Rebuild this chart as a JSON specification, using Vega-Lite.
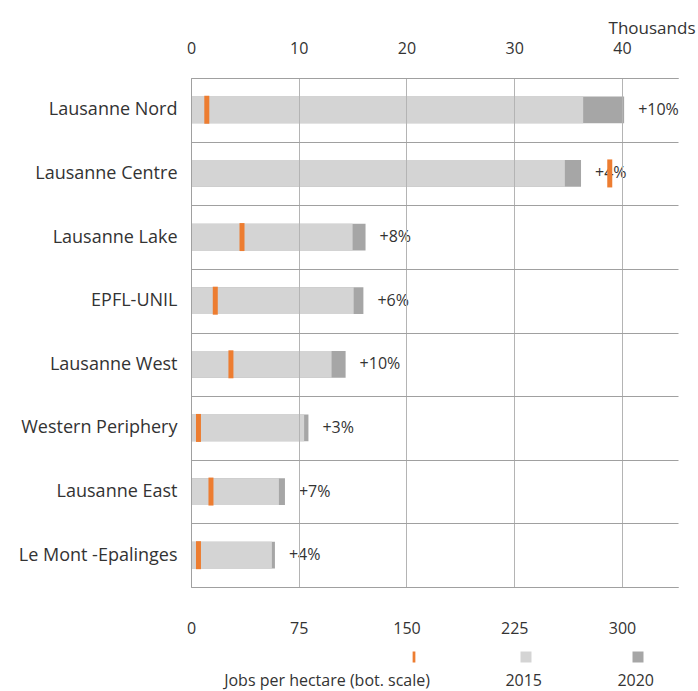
{
  "$schema": "https://vega.github.io/schema/vega-lite/v6.json",
  "width": 487,
  "height": 509,
  "autosize": "none",
  "padding": {"left": 191, "top": 78, "right": 20, "bottom": 104},
  "background": "white",
  "config": {
    "view": {"stroke": null},
    "font": "Open Sans",
    "axis": {"labelFont": "Open Sans", "titleFont": "Open Sans", "labelColor": "#333333", "titleColor": "#333333"},
    "legend": {"labelFont": "Open Sans"}
  },
  "data": {
    "values": [
      {"region": "Lausanne Nord", "y2015": 36.4, "y2020": 40.2, "jobs": 11.0, "label": "+10%"},
      {"region": "Lausanne Centre", "y2015": 34.7, "y2020": 36.2, "jobs": 291.5, "label": "+4%"},
      {"region": "Lausanne Lake", "y2015": 15.0, "y2020": 16.2, "jobs": 35.5, "label": "+8%"},
      {"region": "EPFL-UNIL", "y2015": 15.1, "y2020": 16.0, "jobs": 16.9, "label": "+6%"},
      {"region": "Lausanne West", "y2015": 13.05, "y2020": 14.35, "jobs": 27.8, "label": "+10%"},
      {"region": "Western Periphery", "y2015": 10.5, "y2020": 10.9, "jobs": 5.2, "label": "+3%"},
      {"region": "Lausanne East", "y2015": 8.16, "y2020": 8.72, "jobs": 13.9, "label": "+7%"},
      {"region": "Le Mont -Epalinges", "y2015": 7.51, "y2020": 7.79, "jobs": 5.2, "label": "+4%"}
    ]
  },
  "encoding": {
    "y": {
      "field": "region",
      "type": "nominal",
      "sort": null,
      "scale": {"paddingInner": 0, "paddingOuter": 0},
      "axis": {
        "title": null,
        "ticks": false,
        "tickSize": 0,
        "tickBand": "extent",
        "grid": true,
        "gridColor": "#a0a0a0",
        "gridWidth": 1,
        "domainColor": "#a0a0a0",
        "labelFontSize": 18,
        "labelPadding": 14,
        "labelLimit": 300,
        "zindex": 1
      }
    }
  },
  "layer": [
    {
      "mark": {"type": "bar", "height": {"band": 0.42}},
      "encoding": {
        "x": {
          "field": "y2020",
          "type": "quantitative",
          "scale": {"domain": [0, 45.2], "nice": false},
          "axis": {
            "orient": "top",
            "values": [0, 10, 20, 30, 40],
            "ticks": false,
            "tickSize": 0,
            "labelFlush": false,
            "grid": true,
            "gridColor": "#b4b4b4",
            "gridWidth": 1,
            "domainColor": "#a0a0a0",
            "labelFontSize": 16,
            "labelPadding": 22,
            "title": "Thousands",
            "titleFontSize": 17,
            "titleFontWeight": "normal",
            "titleX": 504,
            "titleY": -50,
            "titleAlign": "right",
            "titleBaseline": "middle",
            "zindex": 1
          }
        },
        "color": {
          "datum": "2020",
          "scale": {
            "domain": ["Jobs per hectare (bot. scale)", "2015", "2020"],
            "range": ["#ed7d31", "#d4d4d4", "#a6a6a6"]
          },
          "legend": {
            "orient": "none",
            "legendX": 215,
            "legendY": 571,
            "direction": "horizontal",
            "title": null,
            "symbolType": "square",
            "symbolSize": 121,
            "symbolStrokeWidth": 0,
            "labelFontSize": 16,
            "labelColor": "#333333",
            "labelAlign": "right",
            "labelOffset": 8,
            "labelLimit": 400,
            "columnPadding": 75,
            "encode": {
              "symbols": {"update": {"shape": {"signal": "datum.value === 'Jobs per hectare (bot. scale)' ? 'M-0.25,-1L0.25,-1L0.25,1L-0.25,1Z' : 'square'"}}},
              "labels": {"update": {"dy": {"value": 24}}}
            }
          }
        }
      }
    },
    {
      "mark": {"type": "bar", "height": {"band": 0.42}},
      "encoding": {
        "x": {"field": "y2015", "type": "quantitative", "scale": {"domain": [0, 45.2], "nice": false}, "axis": null},
        "color": {"datum": "2015"}
      }
    },
    {
      "mark": {"type": "text", "align": "left", "baseline": "middle", "dx": 14, "fontSize": 16, "color": "#333333", "font": "Open Sans"},
      "encoding": {
        "x": {"field": "y2020", "type": "quantitative", "scale": {"domain": [0, 45.2], "nice": false}, "axis": null},
        "text": {"field": "label"}
      }
    },
    {
      "mark": {"type": "tick", "thickness": 5, "size": 28, "opacity": 1},
      "encoding": {
        "x": {
          "field": "jobs",
          "type": "quantitative",
          "scale": {"domain": [0, 339], "nice": false},
          "axis": {
            "orient": "bottom",
            "values": [0, 75, 150, 225, 300],
            "ticks": false,
            "tickSize": 0,
            "labelFlush": false,
            "grid": false,
            "domainColor": "#a0a0a0",
            "labelFontSize": 16,
            "labelPadding": 33,
            "title": null
          }
        },
        "color": {"datum": "Jobs per hectare (bot. scale)"}
      }
    }
  ],
  "resolve": {"scale": {"x": "independent"}}
}
